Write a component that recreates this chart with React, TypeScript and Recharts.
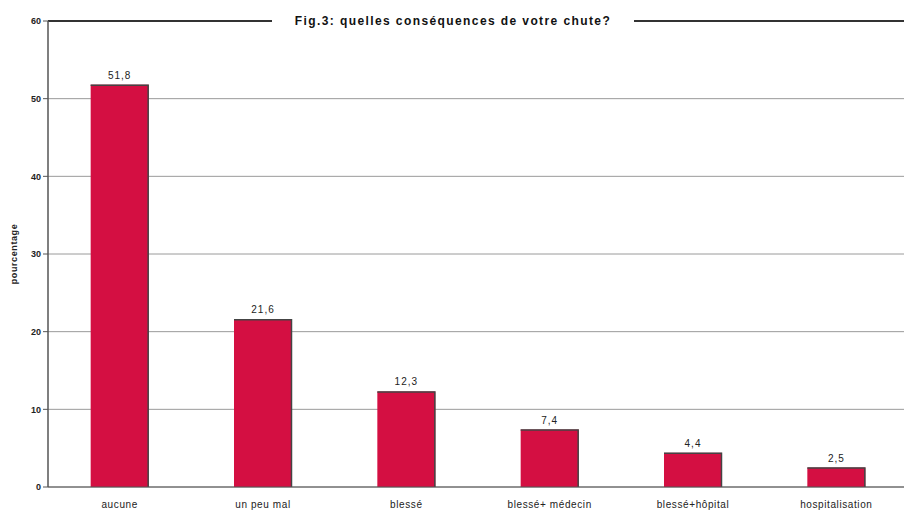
import {
  Bar,
  BarChart,
  CartesianGrid,
  LabelList,
  ReferenceLine,
  XAxis,
  YAxis,
} from "recharts";

const categories = [
  "aucune",
  "un peu mal",
  "blessé",
  "blessé+ médecin",
  "blessé+hôpital",
  "hospitalisation",
];
const values = [51.8, 21.6, 12.3, 7.4, 4.4, 2.5];
const yTicks = [0, 10, 20, 30, 40, 50, 60];
const boundaryTicks = [0, 1, 2, 3, 4, 5, 6];

const data = categories.map((name, i) => ({ name, value: values[i] }));

const FONT = "'Liberation Sans', Arial, sans-serif";

// barre avec ombre sombre en haut et à droite
const ShadowBar = (props: any) => {
  const { x, y, width, height } = props;
  if (!height) return null;
  return (
    <g>
      <rect x={x} y={y} width={width} height={height} fill="#d40f42" />
      <path
        d={`M${x},${y + 0.5} L${x + width - 0.5},${y + 0.5} L${x + width - 0.5},${y + height}`}
        stroke="#444"
        strokeWidth={1.5}
        fill="none"
      />
    </g>
  );
};

// libellé vertical centré sur l'axe
const YLabel = (props: any) => {
  const vb = props.viewBox || {};
  const cx = 14;
  const cy = vb.y + vb.height / 2;
  return (
    <text
      x={cx}
      y={cy}
      transform={`rotate(-90 ${cx} ${cy})`}
      textAnchor="middle"
      dominantBaseline="central"
      fontSize={9}
      fontWeight="bold"
      fill="#222"
      fontFamily={FONT}
      letterSpacing={0.6}
    >
      pourcentage
    </text>
  );
};

export default function App() {
  return (
    <div
      style={{
        position: "absolute",
        left: 0,
        top: 0,
        width: 904,
        height: 513,
        overflow: "hidden",
        background: "#fff",
        fontFamily: FONT,
      }}
    >
      <BarChart
        width={908}
        height={513}
        data={data}
        margin={{ top: 21, right: 0, bottom: 0, left: 0 }}
        barCategoryGap="20%"
      >
        <CartesianGrid vertical={false} stroke="#9a9a9a" strokeWidth={1} />
        <ReferenceLine y={60} stroke="#333" strokeWidth={2} />
        <XAxis
          dataKey="name"
          height={26}
          tickLine={false}
          axisLine={{ stroke: "#555" }}
          tick={{ fontSize: 10, fill: "#222", fontFamily: FONT, letterSpacing: 0.6 }}
          tickMargin={8}
          interval={0}
        />
        <XAxis
          xAxisId="b"
          type="number"
          domain={[0, 6]}
          ticks={boundaryTicks}
          axisLine={false}
          tick={false}
          tickSize={4}
          tickLine={{ stroke: "#777" }}
          height={0}
          orientation="bottom"
        />
        <YAxis
          width={48}
          domain={[0, 60]}
          ticks={yTicks}
          interval={0}
          tickSize={5}
          tickLine={{ stroke: "#555" }}
          axisLine={{ stroke: "#555", strokeWidth: 1.5 }}
          tick={{ fontSize: 9, fill: "#222", fontFamily: FONT, fontWeight: "bold" }}
          label={<YLabel />}
        />
        <Bar
          dataKey="value"
          shape={<ShadowBar />}
          maxBarSize={58}
          isAnimationActive={false}
        >
          <LabelList
            dataKey="value"
            position="top"
            offset={6}
            formatter={(v: any) => String(v).replace(".", ",")}
            style={{ fontSize: 10, fill: "#222", fontFamily: FONT, letterSpacing: 1 }}
          />
        </Bar>
      </BarChart>
      <div
        style={{
          position: "absolute",
          left: 272,
          top: 13,
          width: 362,
          textAlign: "center",
          background: "#fff",
          fontSize: 12,
          fontWeight: "bold",
          color: "#111",
          lineHeight: "16px",
          letterSpacing: 1.4,
        }}
      >
        Fig.3: quelles conséquences de votre chute?
      </div>
    </div>
  );
}
